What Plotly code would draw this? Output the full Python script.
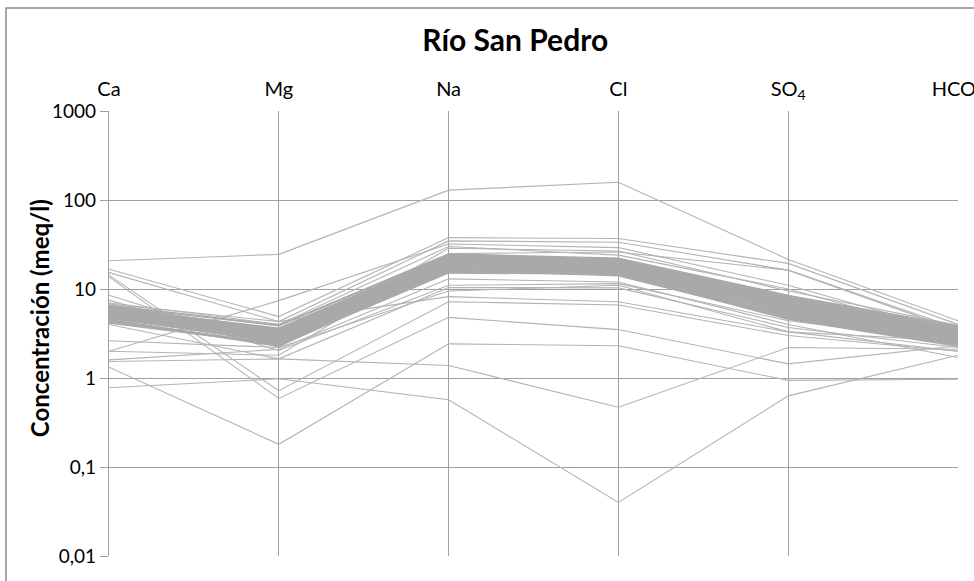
import plotly.graph_objects as go

# Schoeller diagram of major ions, Río San Pedro
ions = ["Ca", "Mg", "Na", "Cl", "SO<sub>4</sub>", "HCO<sub>3</sub>"]

# Samples that depart from the main group (meq/l)
ca_out = [20.8, 16.7, 15.3, 14.3, 13.7, 2.0, 8.5, 7.5, 4.0, 2.62, 1.53, 1.32, 0.776, 6.8, 2.0, 1.6, 7.0]
mg_out = [24.5, 4.9, 4.3, 0.72, 0.59, 7.4, 2.2, 2.04, 1.64, 2.2, 1.64, 0.18, 0.98, 4.3, 1.8, 2.1, 4.0]
na_out = [129, 37.8, 34.7, 7.2, 4.8, 32, 28.7, 11, 10.4, 9.5, 1.38, 2.42, 0.57, 8.2, 25, 13, 30]
cl_out = [158, 36.9, 33.5, 6.6, 3.5, 29.2, 26.7, 11.5, 10.3, 11, 0.47, 2.3, 0.04, 7.2, 26, 12, 24]
so4_out = [21.5, 19.4, 16.3, 3.0, 1.44, 11, 9.5, 4.4, 3.7, 3.3, 2.2, 0.94, 0.63, 3.3, 16.3, 4.0, 10]
hco3_out = [4.4, 4.0, 3.6, 2.0, 2.3, 3.2, 3.9, 2.6, 2.2, 2.0, 2.1, 0.97, 1.8, 2.6, 3.4, 1.7, 3.0]

# Main group of samples (meq/l)
ca_main = [6.5, 6.3, 6.0, 6.1, 5.9, 5.7, 5.8, 5.6, 5.4, 5.5, 5.3, 5.1, 5.2, 5.0, 4.8, 4.9, 4.7, 4.4, 4.5, 4.2]
mg_main = [3.9, 3.5, 3.6, 3.3, 3.4, 3.3, 3.1, 3.2, 3.0, 2.9, 3.0, 2.8, 2.7, 2.8, 2.6, 2.5, 2.6, 2.4, 2.3, 2.4]
na_main = [24.5, 23.0, 23.5, 22.0, 22.5, 21.0, 21.5, 20.0, 20.5, 19.5, 19.8, 18.7, 19.0, 18.0, 18.3, 17.0, 17.5, 16.0, 16.5, 15.3]
cl_main = [22.0, 21.0, 21.5, 20.5, 19.5, 20.0, 19.0, 19.2, 18.3, 18.6, 17.6, 18.0, 16.8, 17.2, 16.0, 16.4, 15.2, 15.6, 14.2, 14.8]
so4_main = [8.4, 7.7, 8.0, 7.2, 7.4, 6.8, 7.0, 6.4, 6.6, 6.0, 6.2, 5.6, 5.8, 5.3, 5.4, 4.9, 5.1, 4.7, 4.8, 4.6]
hco3_main = [3.8, 3.5, 3.6, 3.3, 3.4, 3.1, 3.2, 3.0, 3.05, 2.85, 2.9, 2.7, 2.8, 2.6, 2.65, 2.5, 2.55, 2.4, 2.45, 2.3]

y_tickvals = [0.01, 0.1, 1, 10, 100, 1000]
y_ticktext = ["0,01", "0,1", "1", "10", "100", "1000"]

LINE = "#a9a9a9"
GRID = "#a0a0a0"
FONT = "Lato"

fig = go.Figure()

for row in zip(ca_out, mg_out, na_out, cl_out, so4_out, hco3_out):
    fig.add_trace(go.Scatter(x=ions, y=list(row), mode="lines",
                             line=dict(color="#b3b3b3", width=1.1),
                             showlegend=False, cliponaxis=False, hoverinfo="skip"))

for row in zip(ca_main, mg_main, na_main, cl_main, so4_main, hco3_main):
    fig.add_trace(go.Scatter(x=ions, y=list(row), mode="lines",
                             line=dict(color=LINE, width=2.2),
                             showlegend=False, cliponaxis=False, hoverinfo="skip"))

fig.update_layout(
    width=974, height=581,
    margin=dict(l=109, r=16, t=111, b=25, autoexpand=False),
    paper_bgcolor="white", plot_bgcolor="white",
    font=dict(family=FONT, color="#000000", size=19),
    title=dict(text="<b>Río San Pedro</b>", x=0.529, xanchor="center",
               y=0.931, yanchor="middle", font=dict(family=FONT, size=30, color="#000000")),
    xaxis=dict(
        type="category", side="top", range=[0, 5], automargin=False,
        showgrid=True, gridcolor=GRID, gridwidth=1.2,
        showline=False, zeroline=False, ticks="", ticklabelstandoff=10,
        tickfont=dict(family=FONT, size=20, color="#000000"),
    ),
    yaxis=dict(
        type="log", range=[-2, 3], automargin=False,
        tickvals=y_tickvals, ticktext=y_ticktext,
        showgrid=True, gridcolor=GRID, gridwidth=1.2,
        showline=True, linecolor=GRID, linewidth=1.2,
        ticks="outside", ticklen=8, tickcolor=GRID, tickwidth=1.2,
        tickfont=dict(family=FONT, size=19, color="#000000"),
        zeroline=False,
    ),
    annotations=[dict(
        text="<b>Concentración (meq/l)</b>", textangle=-90,
        xref="paper", yref="paper", x=-0.081, y=0.535,
        xanchor="center", yanchor="middle", showarrow=False,
        font=dict(family=FONT, size=24, color="#000000"),
    )],
    shapes=[dict(
        type="rect", xref="paper", yref="paper",
        x0=-0.1213, y0=-0.08, x1=1.03, y1=1.2315,
        line=dict(color="#8c8c8c", width=1.5), layer="below",
    )],
)

fig.write_html("out.html")
